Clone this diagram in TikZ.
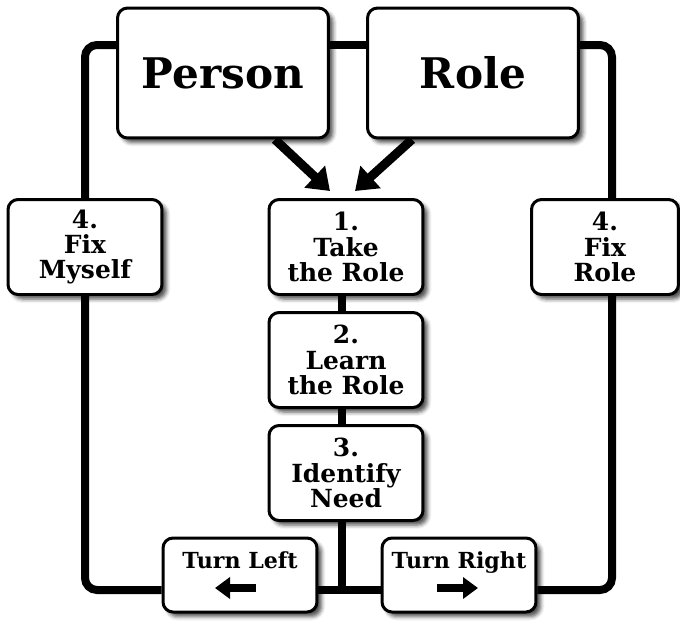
\documentclass[tikz,border=0pt]{standalone}
\usepackage{fontspec}
\setmainfont{DejaVu Serif}
\usetikzlibrary{arrows.meta,shadows.blur,backgrounds}

\tikzset{
  box/.style={draw, line width=0.06cm, rounded corners=0.2cm, fill=white, align=center,
    font=\bfseries\fontsize{14.2}{14.4}\selectfont,
    blur shadow={shadow xshift=0.09cm, shadow yshift=-0.09cm, shadow blur radius=0.08cm, shadow opacity=70}},
  bigbox/.style={box, minimum width=4.22cm, minimum height=2.6cm, font=\bfseries\fontsize{24}{26}\selectfont},
  stepbox/.style={box, minimum width=3.08cm, minimum height=1.9cm, inner sep=0pt},
  turnbox/.style={box, minimum width=3.08cm, minimum height=1.48cm, inner sep=0pt,
    text height=0.6cm, text depth=0.88cm, font=\bfseries\fontsize{12.6}{13}\selectfont},
  wire/.style={line width=0.16cm, rounded corners=0.24cm},
  feed/.style={line width=0.18cm, -{Triangle[length=0.42cm,width=0.58cm]}},
  turn/.style={line width=0.16cm, -{Triangle[length=0.3cm,width=0.42cm]}}
}

\begin{document}
\begin{tikzpicture}[x=0.02cm, y=-0.02cm]
		%%%%% START %%%%%
		\useasboundingbox (0,0) rectangle (680,620);
		
		% the two sources
		\node[bigbox] (person) at (223,73) {Person};
		\node[bigbox] (role) at (473,73) {Role};
		
		% the steps
		\node[stepbox] (fixme) at (85,247) {4.\\Fix\\Myself};
		\node[stepbox] (take) at (346,247) {1.\\Take\\the Role};
		\node[stepbox, minimum width=2.94cm] (fixrole) at (605,247) {4.\\Fix\\Role};
		\node[stepbox] (learn) at (346,360) {2.\\Learn\\the Role};
		\node[stepbox] (need) at (346,473) {3.\\Identify\\Need};
		
		\node[turnbox] (tleft) at (240,575) {Turn Left};
		\node[turnbox] (tright) at (459,575) {Turn Right};
		
		\coordinate (toprow) at (0,45);
		\coordinate (botrow) at (0,590);
		\coordinate (lcol) at (85,0);
		\coordinate (mcol) at (342,0);
		\coordinate (rcol) at (612,0);
		
		\begin{pgfonlayer}{background}
		\draw[wire] (person.west |- toprow) -| (lcol |- botrow) -- (tleft.west |- botrow);
		\draw[wire] (role.east |- toprow) -| (rcol |- botrow) -- (tright.east |- botrow);
		\draw[wire] (person.east |- toprow) -- (role.west |- toprow);
		\draw[wire] (mcol |- take.south) -- (mcol |- botrow);
		\draw[wire] (tleft.east |- botrow) -- (tright.west |- botrow);
		
		\draw[feed] ([xshift=1.04cm]person.south) -- ([xshift=-0.32cm,yshift=0.14cm]take.north);
		\draw[feed] ([xshift=-1.22cm]role.south) -- ([xshift=0.18cm,yshift=0.14cm]take.north);
		\end{pgfonlayer}
		
		% arrows in the turn boxes
		\draw[turn] ([xshift=0.32cm,yshift=-0.26cm]tleft.center) -- ([xshift=-0.5cm,yshift=-0.26cm]tleft.center);
		\draw[turn] ([xshift=-0.44cm,yshift=-0.26cm]tright.center) -- ([xshift=0.38cm,yshift=-0.26cm]tright.center);
		%%%%% END %%%%%
\end{tikzpicture}
\end{document}
